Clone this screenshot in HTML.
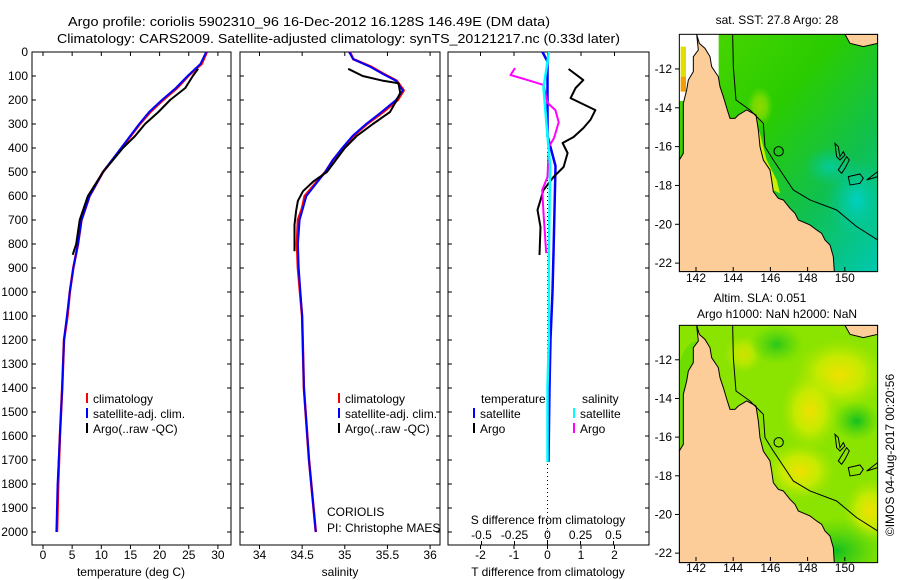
<!DOCTYPE html>
<html><head><meta charset="utf-8"><style>
html,body{margin:0;padding:0;background:#fff;}
svg{display:block;font-family:"Liberation Sans",sans-serif;}
text{font-size:12px;fill:#000;}
</style></head><body>
<svg id="fig" width="900" height="580" viewBox="0 0 900 580" xmlns="http://www.w3.org/2000/svg">
<defs>
<linearGradient id="sstg" x1="0" y1="0" x2="1" y2="1">
<stop offset="0" stop-color="#50d800"/><stop offset="0.4" stop-color="#2acc00"/><stop offset="0.7" stop-color="#10c050"/><stop offset="1" stop-color="#00c8b0"/>
</linearGradient>
<radialGradient id="yb"><stop offset="0" stop-color="#f0e000"/><stop offset="0.5" stop-color="#d4ec00" stop-opacity="0.8"/><stop offset="1" stop-color="#a8e400" stop-opacity="0"/></radialGradient>
<radialGradient id="gb"><stop offset="0" stop-color="#10c020"/><stop offset="1" stop-color="#40cc10" stop-opacity="0"/></radialGradient>
<radialGradient id="tb"><stop offset="0" stop-color="#00d0c0"/><stop offset="1" stop-color="#00c8a0" stop-opacity="0"/></radialGradient>
<clipPath id="mc"><rect x="88" y="103" width="595" height="712"/></clipPath>
</defs>
<g>
<text x="68" y="26" textLength="482" lengthAdjust="spacingAndGlyphs" style="font-size:13px">Argo profile: coriolis 5902310_96 16-Dec-2012 16.128S 146.49E (DM data)</text>
<text x="57" y="43" textLength="563" lengthAdjust="spacingAndGlyphs" style="font-size:13px">Climatology: CARS2009. Satellite-adjusted climatology: synTS_20121217.nc (0.33d later)</text>
</g>
<g id="panels"></g>
<g id="maps"></g>
</svg>
<script>
const NS="http://www.w3.org/2000/svg";
// ---- data ----
const climDepth=[0,50,100,150,200,250,300,400,500,600,700,800,900,1000,1100,1200,1400,1600,1800,2000];
const climTemp=[28.1,27.2,24.9,23.0,20.6,18.4,16.6,13.5,10.3,8.0,6.6,6.0,5.2,4.6,4.2,3.6,3.3,2.9,2.6,2.4];
const satTemp=[28.0,27.0,24.8,22.8,20.4,18.2,16.5,13.4,10.3,8.0,6.6,6.0,5.2,4.6,4.1,3.6,3.3,2.9,2.5,2.3];
const argoDepth=[70,100,150,200,250,300,350,400,450,500,600,700,800,845];
const argoTemp=[26.6,25.7,24.4,21.8,19.8,17.5,15.8,13.7,12.0,10.3,7.7,6.3,5.7,5.1];
const salDepth=[0,30,60,90,120,160,200,250,300,350,400,450,500,550,600,650,700,800,900,1100,1400,1700,2000];
const climSal=[35.06,35.1,35.3,35.45,35.61,35.69,35.62,35.45,35.26,35.1,34.98,34.86,34.77,34.65,34.53,34.5,34.45,34.44,34.45,34.5,34.52,34.58,34.66];
const satSal=[35.05,35.1,35.29,35.44,35.6,35.68,35.6,35.43,35.25,35.09,34.97,34.86,34.77,34.66,34.55,34.51,34.47,34.45,34.46,34.5,34.52,34.58,34.66];
const argoSalDepth=[70,100,120,130,170,200,250,300,350,400,500,540,580,620,660,720,830];
const argoSal=[35.04,35.21,35.45,35.63,35.65,35.61,35.53,35.33,35.14,35.0,34.79,34.63,34.51,34.45,34.43,34.41,34.41];
const dTArgoDepth=[71,117,150,192,242,283,317,354,379,421,479,521,575,658,729,846];
const dTArgo=[0.63,1.07,0.84,0.69,1.43,1.28,1.07,0.78,0.45,0.6,0.48,0.18,-0.12,-0.3,-0.21,-0.24];
const dSArgoDepth=[67,96,117,137,212,242,292,358,396,521,575,671,838];
const dSArgo=[-0.246,-0.28,-0.15,-0.03,0,0.06,0.085,0.05,0.01,0,-0.04,-0.03,-0.01];
const dSatDepth=[0,40,150,350,475,838,1000,1196,1400,1708];
const dTSat=[-0.15,0.0,0.0,0.0,0.24,0.18,0.15,0.09,0.06,0.03];
const dSSat=[0.01,0.0,-0.03,0.0,0.02,0.01,0.01,0.01,0.0,0.0];
const depthTicks=[0,100,200,300,400,500,600,700,800,900,1000,1100,1200,1300,1400,1500,1600,1700,1800,1900,2000];
const tempTicks=[0,5,10,15,20,25,30];
const salTicks=[34,34.5,35,35.5,36];
const dTTicks=[-2,-1,0,1,2];
const dSTicks=[-0.5,-0.25,0,0.25,0.5];
const dSTickLabels=["-0.5","-0.25","0","0.25","0.5"];
const lonTicks=[142,144,146,148,150];
const latTicks=[-12,-14,-16,-18,-20,-22];
// ---- scales ----
const yD=d=>52+d*0.24;
const xT=t=>43+t*5.83;
const xS=s=>259.5+(s-34)*85.3;
const xdT=v=>547.5+v*33.5;
const xdS=v=>547.5+v*132;
const P=document.getElementById('panels');
function el(tag,attrs,parent,txt){const e=document.createElementNS(NS,tag);for(const k in attrs)e.setAttribute(k,attrs[k]);if(txt!==undefined)e.textContent=txt;(parent||P).appendChild(e);return e;}
function line(xs,ys,color,w,name){
  const pts=xs.map((x,i)=>x.toFixed(1)+","+ys[i].toFixed(1)).join(" ");
  const e=el('polyline',{points:pts,fill:'none',stroke:color,'stroke-width':w,'stroke-linejoin':'round'});
  
  
}
const topY=52,botY=545;
const boxes=[[32,231],[240,440],[448,649]];
boxes.forEach((b,i)=>{
  const r=el('rect',{x:b[0],y:topY,width:b[1]-b[0],height:botY-topY,fill:'none',stroke:'#000','stroke-width':1});
  
  
});
depthTicks.forEach(d=>{
  const y=yD(d);
  const t=el('text',{x:28,y:y+4,'text-anchor':'end'},P,String(d));
  
  
  boxes.forEach(b=>{el('line',{x1:b[0],x2:b[0]+4,y1:y,y2:y,stroke:'#000'});el('line',{x1:b[1],x2:b[1]-4,y1:y,y2:y,stroke:'#000'});});
});
function xaxis(ticks,fx,labels,name){
  ticks.forEach((v,i)=>{const x=fx(v);
    el('line',{x1:x,x2:x,y1:topY,y2:topY+4,stroke:'#000'});
    el('line',{x1:x,x2:x,y1:botY,y2:botY+4,stroke:'#000'});
    const t=el('text',{x:x,y:559,'text-anchor':'middle'},P,labels?labels[i]:String(v));
    
    
  });
}
xaxis(tempTicks,xT,null,'temp-tick-label');
xaxis(salTicks,xS,null,'salinity-tick-label');
xaxis(dTTicks,xdT,null,'tdiff-tick-label');
dSTicks.forEach((v,i)=>{const x=xdS(v);el('line',{x1:x,x2:x,y1:botY,y2:botY-4,stroke:'#000'});
  const t=el('text',{x:x,y:539,'text-anchor':'middle'},P,dSTickLabels[i]);
  
  });
[['temperature (deg C)',131,'temp-axis-title'],['salinity',340,'salinity-axis-title'],['T difference from climatology',548,'tdiff-axis-title']].forEach(a=>{
  const t=el('text',{x:a[1],y:576,'text-anchor':'middle'},P,a[0]);
  
  });
{const t=el('text',{x:548,y:524,'text-anchor':'middle'},P,'S difference from climatology');

}
el('line',{x1:547.5,x2:547.5,y1:topY,y2:botY,stroke:'#000','stroke-dasharray':'1,3'});
line(climTemp.map(xT),climDepth.map(yD),'#f00',2.5,'temp-climatology-line');
line(satTemp.map(xT),climDepth.map(yD),'#00f',2,'temp-satellite-line');
line(argoTemp.map(xT),argoDepth.map(yD),'#000',2,'temp-argo-line');
line(climSal.map(xS),salDepth.map(yD),'#f00',2.5,'salinity-climatology-line');
line(satSal.map(xS),salDepth.map(yD),'#00f',2,'salinity-satellite-line');
line(argoSal.map(xS),argoSalDepth.map(yD),'#000',2,'salinity-argo-line');
line(dTSat.map(xdT),dSatDepth.map(yD),'#00f',2.5,'tdiff-satellite-line');
line(dTArgo.map(xdT),dTArgoDepth.map(yD),'#000',2,'tdiff-argo-line');
line(dSArgo.map(xdS),dSArgoDepth.map(yD),'#f0f',2,'sdiff-argo-line');
line(dSSat.map(xdS),dSatDepth.map(yD),'#0ff',2.5,'sdiff-satellite-line');
function leg(x,y,color,label,name){
  const g=el('g',{});
  
  
  el('line',{x1:x,x2:x,y1:y-10,y2:y,stroke:color,'stroke-width':2},g);
  el('text',{x:x+6,y:y},g,label);
}
leg(87,403,'#f00','climatology','legend-climatology');
leg(87,418,'#00f','satellite-adj. clim.','legend-satellite');
leg(87,433,'#000','Argo(..raw -QC)','legend-argo');
leg(339,403,'#f00','climatology','legend-climatology-sal');
leg(339,418,'#00f','satellite-adj. clim.','legend-satellite-sal');
leg(339,433,'#000','Argo(..raw -QC)','legend-argo-sal');
{const t=el('text',{x:481,y:403},P,'temperature');
const s=el('text',{x:582,y:403},P,'salinity');}
leg(474,418,'#00f','satellite','legend-tdiff-satellite');
leg(474,433,'#000','Argo','legend-tdiff-argo');
leg(574,418,'#0ff','satellite','legend-sdiff-satellite');
leg(574,433,'#f0f','Argo','legend-sdiff-argo');
{const t=el('text',{x:327,y:516},P,'CORIOLIS');
const s=el('text',{x:327,y:532},P,'PI: Christophe MAES');}

const M=document.getElementById('maps');
const landPath="M140,103 L148,130 L165,145 L180,170 L185,200 L205,230 L210,260 L220,290 L232,330 L240,355 L255,355 L265,345 L290,330 L318,345 L325,390 L330,440 L340,480 L360,510 L365,540 L370,575 L385,595 L400,600 L420,625 L435,640 L445,660 L480,675 L500,690 L515,700 L525,720 L540,735 L550,770 L553,815 L88,815 L88,480 L100,460 L100,310 L110,270 L115,240 L130,215 L130,170 L145,150 Z";
const contour="M248,103 L250,200 L258,300 L300,330 L340,370 L345,440 L370,480 L410,540 L430,570 L480,600 L560,630 L620,680 L683,720";
const islands="M555,430 L565,440 L570,470 L580,455 L585,465 L570,480 L560,470 Z M590,470 L598,480 L585,505 L575,520 L565,510 Z M595,530 L630,522 L640,535 L630,550 L600,555 Z M650,540 L683,515 L683,530 Z";
function map(ox,oy,kind){
  const g=el('g',{transform:`translate(${ox},${oy}) scale(0.3333)`},M);
  
  
  const c=el('g',{'clip-path':'url(#mc)'},g);
  if(kind==='sst'){
    el('rect',{x:88,y:103,width:595,height:712,fill:'url(#sstg)'},c);
    el('ellipse',{cx:330,cy:320,rx:40,ry:60,fill:'url(#yb)',opacity:0.5},c);
    el('ellipse',{cx:620,cy:600,rx:90,ry:120,fill:'url(#tb)'},c);
    el('ellipse',{cx:540,cy:500,rx:80,ry:60,fill:'url(#tb)',opacity:0.7},c);
    el('path',{d:"M300,340 L330,400 L350,480 L380,540 L390,580 L370,570 L340,500 L320,430 Z",fill:'#c8f000'},c);
    el('rect',{x:88,y:103,width:118,height:200,fill:'#fff'},c);
    el('rect',{x:92,y:140,width:16,height:90,fill:'#e0e000'},c);
    el('rect',{x:92,y:230,width:16,height:45,fill:'#f0a000'},c);
  }else{
    el('rect',{x:88,y:103,width:595,height:712,fill:'#8ae400'},c);
    el('ellipse',{cx:570,cy:250,rx:140,ry:110,fill:'url(#yb)'},c);
    el('ellipse',{cx:480,cy:360,rx:90,ry:120,fill:'url(#yb)'},c);
    el('ellipse',{cx:450,cy:540,rx:110,ry:90,fill:'url(#yb)'},c);
    el('ellipse',{cx:660,cy:660,rx:80,ry:100,fill:'url(#yb)'},c);
    el('ellipse',{cx:280,cy:190,rx:60,ry:60,fill:'url(#yb)',opacity:0.7},c);
    el('ellipse',{cx:620,cy:390,rx:70,ry:60,fill:'url(#gb)'},c);
    el('ellipse',{cx:380,cy:160,rx:80,ry:60,fill:'url(#gb)',opacity:0.8},c);
    el('ellipse',{cx:560,cy:780,rx:150,ry:100,fill:'url(#gb)'},c);
    el('ellipse',{cx:140,cy:350,rx:70,ry:200,fill:'#50d800',opacity:0.5},c);
  }
  el('path',{d:landPath,fill:'#fccc99',stroke:'#000','stroke-width':3},c);
  el('path',{d:"M585,103 L683,103 L683,130 L640,140 L600,130 Z",fill:'#fccc99',stroke:'#000','stroke-width':3},c);
  el('path',{d:contour,fill:'none',stroke:'#000','stroke-width':3},c);
  el('path',{d:islands,fill:'none',stroke:'#000','stroke-width':3},c);
  el('circle',{cx:386,cy:454,r:14,fill:'none',stroke:'#000','stroke-width':3},c);
  el('rect',{x:88,y:103,width:595,height:712,fill:'none',stroke:'#000','stroke-width':3},g);
}
map(650,0,'sst');
map(650,291,'sla');
const mapBoxes=[[34,267,'sst'],[325,557,'sla']];
mapBoxes.forEach(mb=>{
  const y0=mb[0],y1=mb[1];
  const yLat=la=>y0+(-10.2-la)*(y1-y0)/12;
  latTicks.forEach(la=>{const y=yLat(la);
    el('line',{x1:675,x2:679,y1:y,y2:y,stroke:'#000'},M);
    const t=el('text',{x:672,y:y+4,'text-anchor':'end'},M,String(la));
    
    });
  lonTicks.forEach(lo=>{const x=696+(lo-142)*18.6;
    el('line',{x1:x,x2:x,y1:y1,y2:y1+4,stroke:'#000'},M);
    const t=el('text',{x:x,y:y1+15,'text-anchor':'middle'},M,String(lo));
    
    });
});
{const a=el('text',{x:777,y:24,'text-anchor':'middle'},M,'sat. SST: 27.8 Argo: 28');
const b=el('text',{x:760,y:302,'text-anchor':'middle'},M,'Altim. SLA: 0.051');
const c=el('text',{x:777,y:318,'text-anchor':'middle'},M,'Argo h1000: NaN h2000: NaN');
const d=el('text',{x:0,y:0,'text-anchor':'middle',transform:'translate(894,455) rotate(-90)'},M,'©IMOS 04-Aug-2017 00:20:56');}
</script>
</body></html>
